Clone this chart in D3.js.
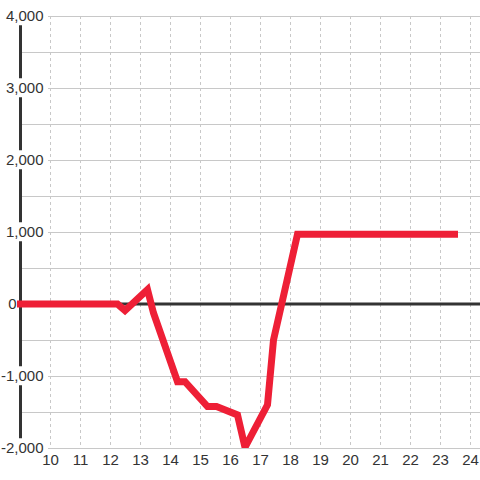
<!DOCTYPE html>
<html>
<head>
<meta charset="utf-8">
<script src="https://cdn.jsdelivr.net/npm/d3@7"></script>
<style>
  body { margin: 0; background: #fff; }
  svg { display: block; }
  .lbl { font-family: "Liberation Sans", Arial, sans-serif; font-size: 15px; fill: #333; }
</style>
</head>
<body>
<svg id="chart" width="480" height="480"></svg>
<script>
// hours and values
var hours  = [8.9, 12.25, 12.5, 13.25, 13.45, 14.25, 14.5, 15.25, 15.55, 16.25, 16.5, 17.25, 17.45, 18.25, 23.6];
var values = [0, 0, -90, 200, -125, -1080, -1080, -1425, -1425, -1540, -1990, -1400, -500, 970, 970];
var xTicks = [10, 11, 12, 13, 14, 15, 16, 17, 18, 19, 20, 21, 22, 23, 24];
var yTicks = [-2000, -1000, 0, 1000, 2000, 3000, 4000];
var yGrid  = [-2000, -1500, -1000, -500, 0, 500, 1000, 1500, 2000, 2500, 3000, 3500, 4000];

var svg = d3.select("#chart");

var x = d3.scaleLinear().domain([9, 24 + 1/3]).range([20, 480]);
var y = d3.scaleLinear().domain([-2000, 4000]).range([448, 16]);

var fmt = d3.format(",");

// horizontal grid
svg.append("g").selectAll("line")
    .data(yGrid.filter(function(d) { return d !== 0; }))
    .enter().append("line")
    .attr("x1", 20).attr("x2", 480)
    .attr("y1", function(d) { return y(d) + 0.5; })
    .attr("y2", function(d) { return y(d) + 0.5; })
    .attr("stroke", "#c8c8c8").attr("stroke-width", 1);

// vertical dashed grid
svg.append("g").selectAll("line")
    .data(xTicks)
    .enter().append("line")
    .attr("x1", function(d) { return x(d) + 0.5; })
    .attr("x2", function(d) { return x(d) + 0.5; })
    .attr("y1", 16).attr("y2", 448)
    .attr("stroke", "#c8c8c8").attr("stroke-width", 1)
    .attr("stroke-dasharray", "3,3");

// zero line
svg.append("line")
    .attr("x1", 20).attr("x2", 480)
    .attr("y1", y(0)).attr("y2", y(0))
    .attr("stroke", "#333").attr("stroke-width", 3);

// y axis line
svg.append("line")
    .attr("x1", 20.5).attr("x2", 20.5)
    .attr("y1", 16).attr("y2", 448)
    .attr("stroke", "#333").attr("stroke-width", 3);

// y labels with white backing (the zero label sits left of the axis)
var yl = svg.append("g").selectAll("g")
    .data(yTicks)
    .enter().append("g")
    .attr("transform", function(d) { return "translate(" + (d === 0 ? 16.5 : 43.5) + "," + y(d) + ")"; });

yl.append("text")
    .attr("class", "lbl")
    .attr("text-anchor", "end")
    .attr("dy", "0.35em")
    .text(function(d) { return fmt(d).replace("−", "-"); })
    .each(function(d) {
      if (d === 0) return;
      var b = this.getBBox();
      d3.select(this.parentNode).insert("rect", "text")
        .attr("x", b.x - 4).attr("y", b.y - 1)
        .attr("width", b.width + 8.5).attr("height", b.height + 2)
        .attr("fill", "#fff");
    });

// data line, clipped at the plot bottom
svg.append("clipPath").attr("id", "clip")
    .append("rect").attr("x", 0).attr("y", 0).attr("width", 480).attr("height", 448);

var line = d3.line()
    .x(function(d, i) { return x(hours[i]); })
    .y(function(d) { return y(d); });

svg.append("path")
    .datum(values)
    .attr("clip-path", "url(#clip)")
    .attr("d", line)
    .attr("fill", "none")
    .attr("stroke", "#ee1f36")
    .attr("stroke-width", 7)
    .attr("stroke-linejoin", "miter");

// x labels
svg.append("g").selectAll("text")
    .data(xTicks)
    .enter().append("text")
    .attr("class", "lbl")
    .attr("text-anchor", "middle")
    .attr("x", function(d) { return x(d) + 0.5; })
    .attr("y", 465)
    .text(function(d) { return d; });
</script>
</body>
</html>
